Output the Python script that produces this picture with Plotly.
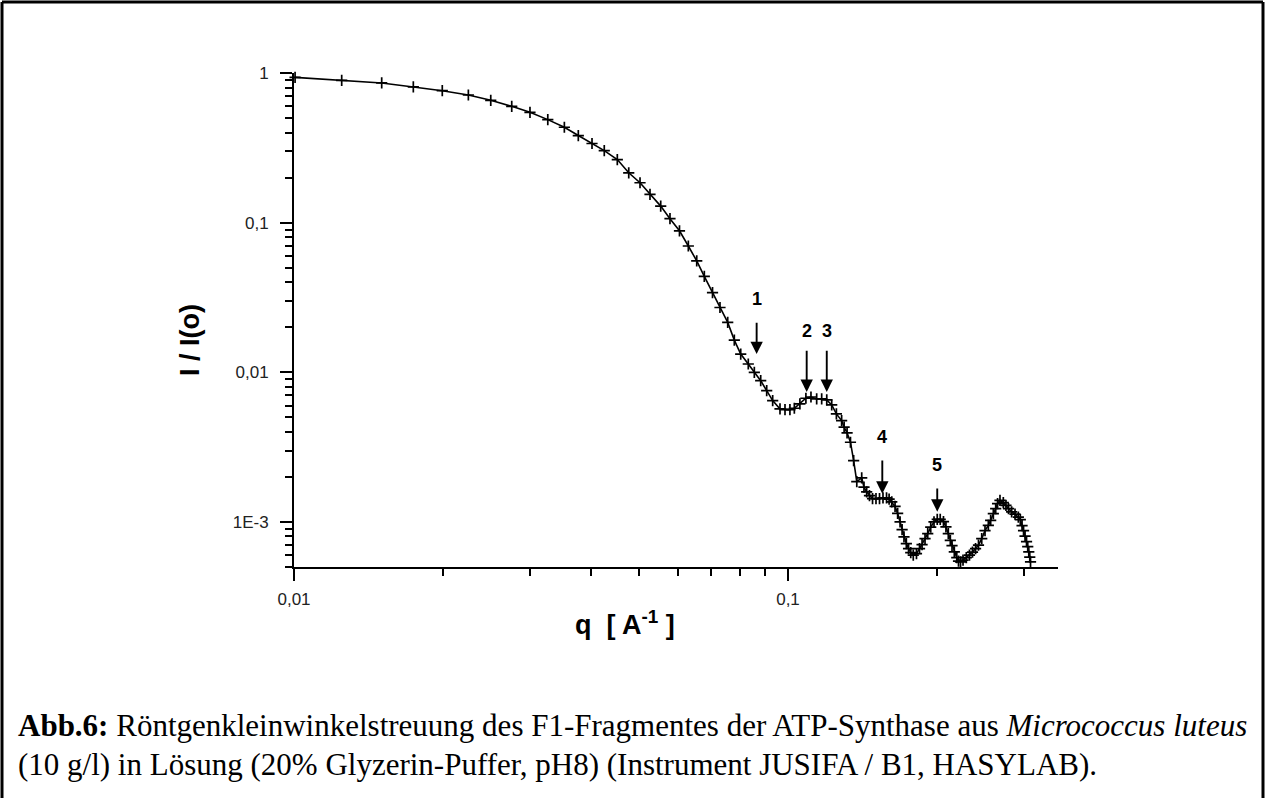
import math
import plotly.graph_objects as go

# ---- data ----
q_values = [
    0.01005, 0.01249, 0.01505, 0.01744, 0.01996, 0.02254, 0.02502, 0.02759, 0.03004, 0.03264,
    0.03526, 0.03763, 0.04011, 0.04247, 0.04513, 0.04760, 0.05017, 0.05256, 0.05525, 0.05769,
    0.06030, 0.06284, 0.06535, 0.06770, 0.07034, 0.07283, 0.07550, 0.07786, 0.08022, 0.08310,
    0.08547, 0.08805, 0.09055, 0.09311, 0.09634, 0.09861, 0.1009, 0.1030, 0.1057, 0.1087,
    0.1113, 0.1143, 0.1170, 0.1198, 0.1226, 0.1253, 0.1284, 0.1299, 0.1317, 0.1338,
    0.1358, 0.1378, 0.1410, 0.1425, 0.1443, 0.1462, 0.1483, 0.1507, 0.1532, 0.1557,
    0.1583, 0.1602, 0.1622, 0.1647, 0.1667, 0.1686, 0.1702, 0.1717, 0.1736, 0.1754,
    0.1772, 0.1793, 0.1820, 0.1846, 0.1868, 0.1894, 0.1918, 0.1945, 0.1975, 0.2005,
    0.2033, 0.2064, 0.2088, 0.2111, 0.2131, 0.2148, 0.2171, 0.2196, 0.2214, 0.2235,
    0.2261, 0.2296, 0.2330, 0.2363, 0.2397, 0.2430, 0.2467, 0.2505, 0.2544, 0.2572,
    0.2604, 0.2633, 0.2656, 0.2686, 0.2728, 0.2762, 0.2795, 0.2836, 0.2881, 0.2926,
    0.2953, 0.2977, 0.2998, 0.3019, 0.3040, 0.3057, 0.3072, 0.3086, 0.3097,
]
intensity = [
    0.935, 0.893, 0.858, 0.807, 0.762, 0.713, 0.657, 0.599, 0.546, 0.488,
    0.434, 0.382, 0.338, 0.303, 0.264, 0.2154, 0.1848, 0.1544, 0.129, 0.1063,
    0.0882, 0.0698, 0.0555, 0.0437, 0.0341, 0.0271, 0.02154, 0.01641, 0.01324, 0.01136,
    0.0100, 0.00879, 0.00754, 0.00647, 0.00569, 0.00563, 0.00563, 0.00575, 0.00615, 0.00671,
    0.00684, 0.00664, 0.00664, 0.00654, 0.00605, 0.00527, 0.00476, 0.00430, 0.00394, 0.00341,
    0.00257, 0.00186, 0.00197, 0.00171, 0.00159, 0.00150, 0.00143, 0.00143, 0.00143, 0.00145,
    0.00145, 0.00142, 0.00136, 0.00127, 0.00114, 0.00100, 0.000889, 0.000794, 0.000717, 0.000664,
    0.000624, 0.000601, 0.000615, 0.000664, 0.000706, 0.000774, 0.000836, 0.000923, 0.00100, 0.00104,
    0.00104, 0.001005, 0.000926, 0.000836, 0.000754, 0.000695, 0.000631, 0.000578, 0.000548, 0.000541,
    0.000556, 0.000578, 0.000601, 0.000629, 0.000664, 0.000700, 0.000774, 0.000875, 0.000949, 0.001025,
    0.001136, 0.001227, 0.001324, 0.001393, 0.001345, 0.00129, 0.001227, 0.001166, 0.001127, 0.001076,
    0.001036, 0.000945, 0.000875, 0.000804, 0.000739, 0.000684, 0.000631, 0.000582, 0.000541,
]

# arrows marking features (tip positions)
feature_labels = ["1", "2", "3", "4", "5"]
feature_q = [0.0864, 0.1091, 0.1198, 0.1552, 0.2005]
feature_I = [0.01324, 0.00739, 0.00739, 0.001545, 0.001172]

x_major_vals = [0.01, 0.1]
x_major_text = ["0,01", "0,1"]
x_minor_vals = [0.02, 0.03, 0.04, 0.05, 0.06, 0.07, 0.08, 0.09, 0.2, 0.3]
y_major_vals = [1, 0.1, 0.01, 0.001]
y_major_text = ["1", "0,1", "0,01", "1E-3"]
y_minor_vals = [m * d for d in (0.1, 0.01, 0.001) for m in range(2, 10)] + [0.0005, 0.0006, 0.0007, 0.0008, 0.0009]

x_title = "q  [ A<sup>-1</sup> ]"
y_title = "I / I(o)"
caption_1 = ("<b>Abb.6:</b> Röntgenkleinwinkelstreuung des F1-Fragmentes der ATP-Synthase aus "
             "<i>Micrococcus luteus</i>")
caption_2 = "(10 g/l) in Lösung (20% Glyzerin-Puffer, pH8) (Instrument JUSIFA / B1, HASYLAB)."

# ---- layout geometry (pixels) ----
W, H = 1266, 798
L, R, T, B = 294, 1058, 73, 567


def px_x(p):
    return (p - L) / (R - L)


def px_y(p):
    return (B - p) / (B - T)


SANS = "Liberation Sans, Arial, sans-serif"
SERIF = "Liberation Serif, Times New Roman, serif"

fig = go.Figure()
fig.add_trace(go.Scatter(
    x=q_values, y=intensity, mode="lines+markers",
    line=dict(color="black", width=1.6),
    marker=dict(symbol="cross-thin", size=8, line=dict(color="black", width=1.7)),
    cliponaxis=False, showlegend=False, hoverinfo="x+y",
))

# annotations on log axes are positioned in log10 units
LABEL_SIZE = 18
half_box = LABEL_SIZE * 0.65 + 1
arrow_len = [30, 40, 40, 32, 22]
label_off = [55, 61, 61, 57, 47]
for lab, qv, iv, al, lo in zip(feature_labels, feature_q, feature_I, arrow_len, label_off):
    fig.add_annotation(x=math.log10(qv), y=math.log10(iv), xref="x", yref="y",
                       text=f"<b>{lab}</b>", showarrow=True,
                       ax=0, ay=-lo, arrowhead=2, arrowsize=1.3, arrowwidth=1.9,
                       arrowcolor="black", standoff=0,
                       startstandoff=max(lo - al - half_box, 0),
                       font=dict(family=SANS, size=LABEL_SIZE, color="black"))

fig.add_annotation(x=px_x(625), y=px_y(642), xref="paper", yref="paper", text=f"<b>{x_title}</b>",
                   showarrow=False, font=dict(family=SANS, size=27, color="black"))
fig.add_annotation(x=px_x(173), y=px_y(340), xref="paper", yref="paper", text=f"<b>{y_title}</b>",
                   showarrow=False, textangle=-90, font=dict(family=SANS, size=27, color="black"))

fig.add_annotation(x=px_x(16), y=px_y(725), xref="paper", yref="paper", text=caption_1,
                   xanchor="left", yanchor="middle", showarrow=False,
                   font=dict(family=SERIF, size=31, color="black"))
fig.add_annotation(x=px_x(16), y=px_y(764), xref="paper", yref="paper", text=caption_2,
                   xanchor="left", yanchor="middle", showarrow=False,
                   font=dict(family=SERIF, size=31, color="black"))

# frame around the figure
for x0, y0, x1, y1 in [(2, 2, 2, 800), (2, 2, 1263, 2), (1263, 2, 1263, 800)]:
    fig.add_shape(type="line", xref="paper", yref="paper",
                  x0=px_x(x0), y0=px_y(y0), x1=px_x(x1), y1=px_y(y1),
                  line=dict(color="black", width=3))

fig.update_layout(
    width=W, height=H,
    margin=dict(l=L, r=W - R, t=T, b=H - B, pad=0),
    paper_bgcolor="white", plot_bgcolor="white",
    showlegend=False,
)
fig.update_xaxes(
    type="log", range=[-2, -2 + (R - L) / 494.0],
    showgrid=False, zeroline=False, showline=True, linecolor="black", linewidth=2,
    tickmode="array", tickvals=x_major_vals, ticktext=x_major_text,
    ticks="outside", ticklen=12, tickwidth=2, tickcolor="black",
    ticklabelstandoff=4,
    tickfont=dict(family=SANS, size=17, color="#222"),
    minor=dict(tickvals=x_minor_vals, ticks="outside", ticklen=7, tickwidth=2, tickcolor="black", showgrid=False),
)
fig.update_yaxes(
    type="log", range=[-3.301, 0],
    showgrid=False, zeroline=False, showline=True, linecolor="black", linewidth=2,
    tickmode="array", tickvals=y_major_vals, ticktext=y_major_text,
    ticks="outside", ticklen=12, tickwidth=2, tickcolor="black",
    ticklabelstandoff=8,
    tickfont=dict(family=SANS, size=17, color="#222"),
    minor=dict(tickvals=y_minor_vals, ticks="outside", ticklen=7, tickwidth=2, tickcolor="black", showgrid=False),
)

fig.write_html("out.html")
